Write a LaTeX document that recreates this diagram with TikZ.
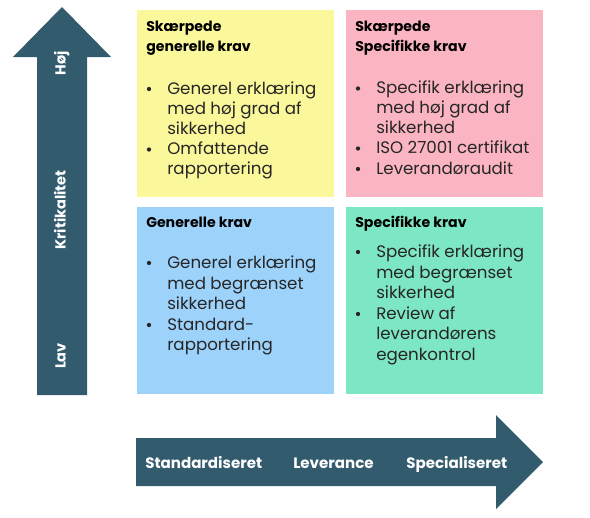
\documentclass[tikz,border=0pt]{standalone}
\usepackage{fontspec}
\setmainfont{Poppins}
\usetikzlibrary{calc}
\definecolor{arrowc}{HTML}{325B6E}
\definecolor{yelc}{HTML}{FBF89C}
\definecolor{pinkc}{HTML}{FBB4C2}
\definecolor{bluec}{HTML}{9DD2FB}
\definecolor{greenc}{HTML}{7DE6C4}
\definecolor{txtc}{HTML}{262626}
\begin{document}
\begin{tikzpicture}[x=0.75pt,y=-0.75pt,
 quad/.style={anchor=north west, inner sep=0, outer sep=0, minimum width=147.75pt, minimum height=140.25pt},
 ttl/.style={anchor=base west, inner sep=0, font=\fontsize{10.6}{12}\selectfont\bfseries, text=black},
 bl/.style={anchor=base west, inner sep=0, font=\fontsize{12.5}{15}\selectfont, text=txtc},
 bdot/.style={circle, fill=txtc, inner sep=0, minimum size=3.2pt},
 axl/.style={font=\fontsize{11.3}{13}\selectfont\bfseries, text=white, inner sep=0},
 vxl/.style={font=\fontsize{10.9}{13}\selectfont\bfseries, text=white, inner sep=0, rotate=90, anchor=base}]
\useasboundingbox (0,0) rectangle (590,518);
% vertical arrow
\fill[arrowc] (37,395) -- (37,57) -- (13,57) -- (62,7) -- (111,57) -- (87,57) -- (87,395) -- cycle;
\node[vxl] (hoj) at (65.5,63.5) {Høj};
\node[vxl] (krit) at (65.5,210) {Kritikalitet};
\node[vxl] (lav) at (65.5,356) {Lav};
% horizontal arrow
\fill[arrowc] (136,438) -- (496,438) -- (496,415) -- (543,462) -- (496,509) -- (496,486) -- (136,486) -- cycle;
\node[axl, anchor=base west] (std) at (145,468) {Standardiseret};
\node[axl, anchor=base west] (lev) at (293,468) {Leverance};
\node[axl, anchor=base west] (spec) at (406,468) {Specialiseret};
% quadrants
\node[quad, fill=yelc] (q1) at (137,10) {};
\node[quad, fill=pinkc] (q2) at (346,10) {};
\node[quad, fill=bluec] (q3) at (137,207) {};
\node[quad, fill=greenc] (q4) at (346,207) {};
% yellow
\node[ttl] (t1a) at (146,31) {Skærpede};
\node[ttl] (t1b) at (146,51) {generelle krav};
\node[bdot] (d1a) at (149,89) {};
\node[bl] (l1a) at (167,94) {Generel erklæring};
\node[bl] (l1b) at (167,114) {med høj grad af};
\node[bl] (l1c) at (167,134) {sikkerhed};
\node[bdot] (d1b) at (149,149.5) {};
\node[bl] (l1d) at (167,154.5) {Omfattende};
\node[bl] (l1e) at (167,174.5) {rapportering};
% pink
\node[ttl] (t2a) at (355,31) {Skærpede};
\node[ttl] (t2b) at (355,51) {Specifikke krav};
\node[bdot] (d2a) at (358,88.5) {};
\node[bl] (l2a) at (376,93.5) {Specifik erklæring};
\node[bl] (l2b) at (376,113.5) {med høj grad af};
\node[bl] (l2c) at (376,133.5) {sikkerhed};
\node[bdot] (d2b) at (358,148.5) {};
\node[bl] (l2d) at (376,153.5) {ISO 27001 certifikat};
\node[bdot] (d2c) at (358,169) {};
\node[bl] (l2e) at (376,174) {Leverandøraudit};
% blue
\node[ttl] (t3a) at (146,227) {Generelle krav};
\node[bdot] (d3a) at (149,263) {};
\node[bl] (l3a) at (167,268) {Generel erklæring};
\node[bl] (l3b) at (167,289) {med begrænset};
\node[bl] (l3c) at (167,309.5) {sikkerhed};
\node[bdot] (d3b) at (149,325) {};
\node[bl] (l3d) at (167,330) {Standard-};
\node[bl] (l3e) at (167,350) {rapportering};
% green
\node[ttl] (t4a) at (355,227) {Specifikke krav};
\node[bdot] (d4a) at (358,252) {};
\node[bl] (l4a) at (376,257) {Specifik erklæring};
\node[bl] (l4b) at (376,278) {med begrænset};
\node[bl] (l4c) at (376,298.5) {sikkerhed};
\node[bdot] (d4b) at (358,314) {};
\node[bl] (l4d) at (376,319) {Review af};
\node[bl] (l4e) at (376,339.5) {leverandørens};
\node[bl] (l4f) at (376,360) {egenkontrol};
\end{tikzpicture}
\end{document}
